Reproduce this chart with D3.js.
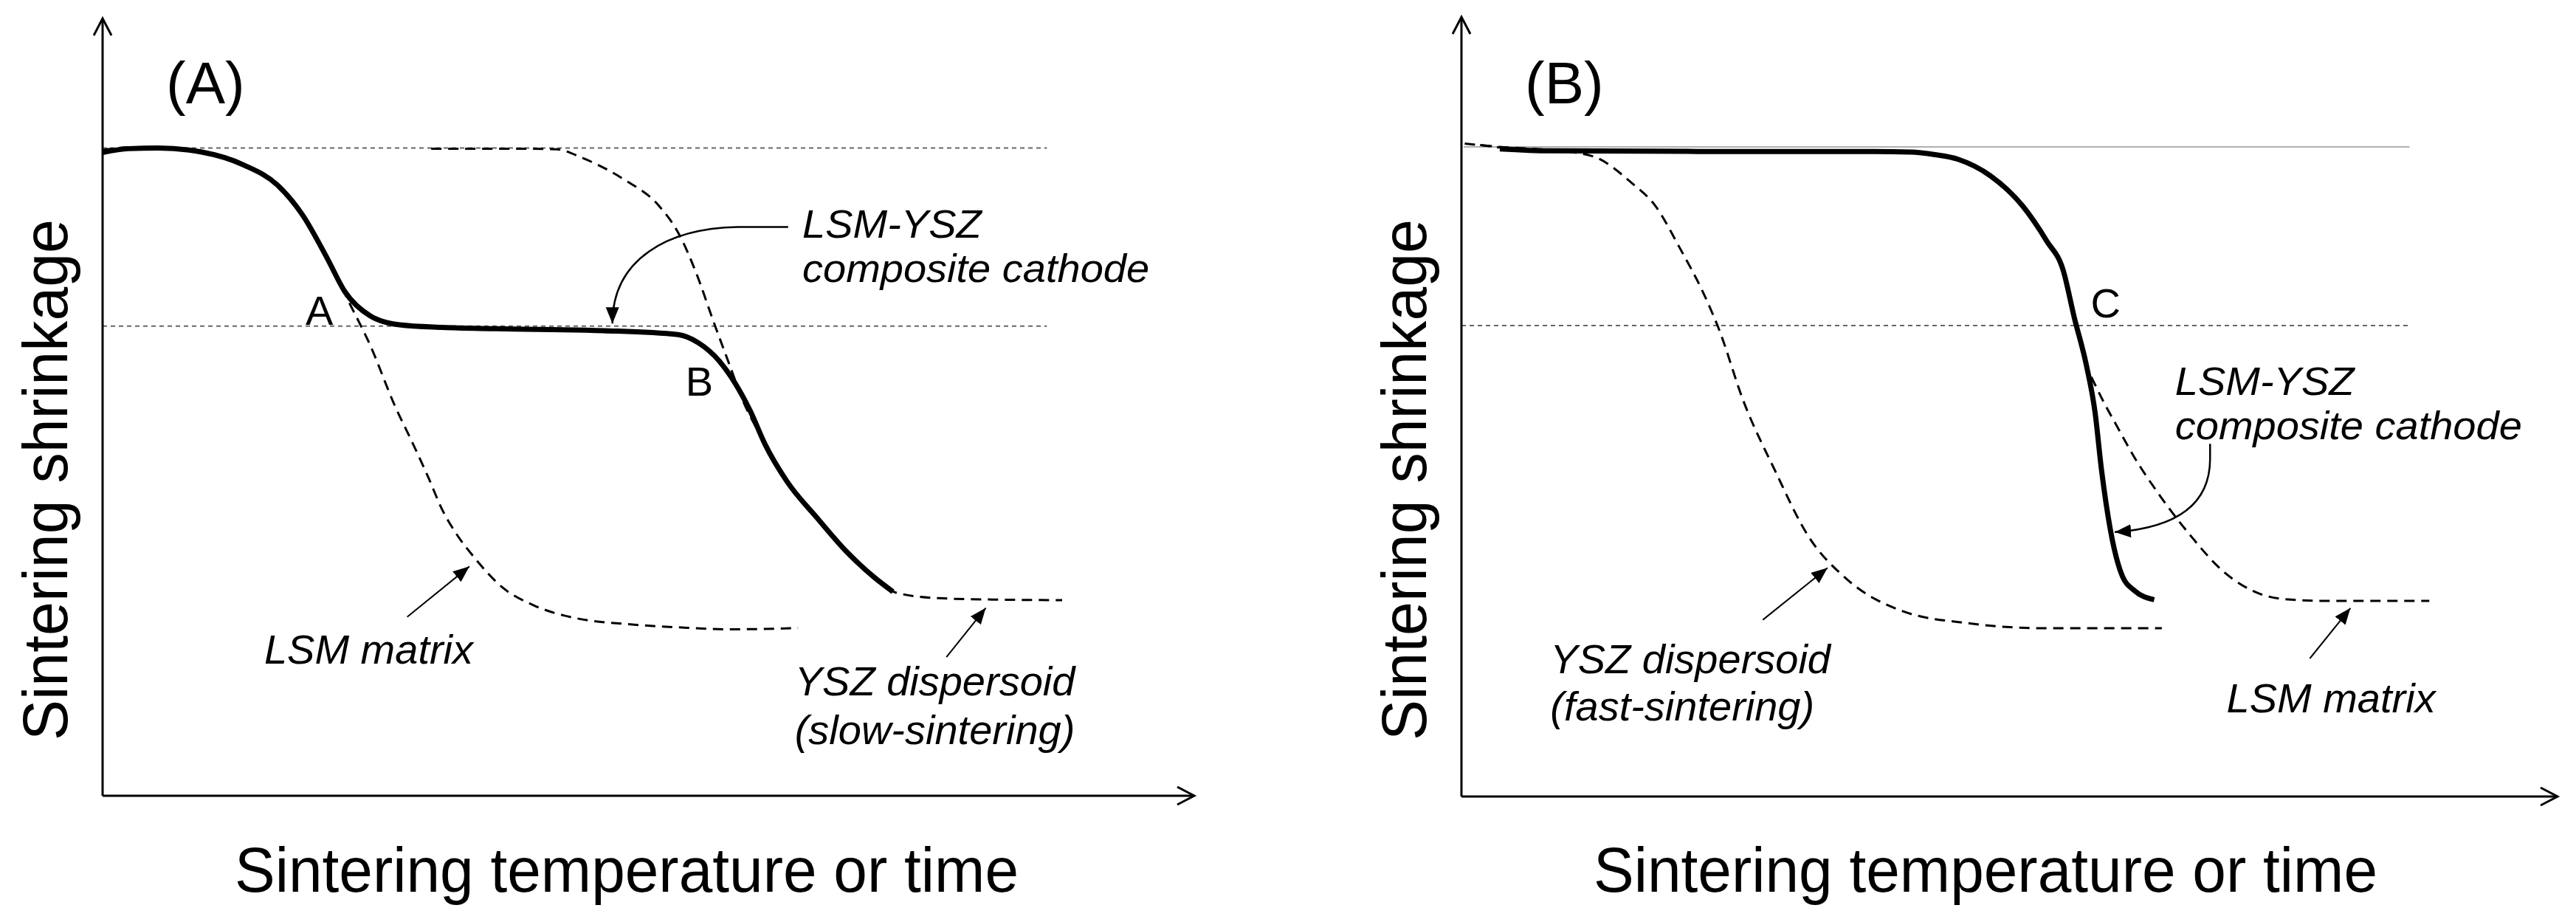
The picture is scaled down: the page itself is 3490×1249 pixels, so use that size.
<!DOCTYPE html>
<html><head><meta charset="utf-8">
<script src="https://cdn.jsdelivr.net/npm/d3@7"></script>
<style>
html,body{margin:0;padding:0;background:#fff;}
svg{display:block;}
text{font-family:"Liberation Sans", Arial, sans-serif;fill:#000;}
</style>
</head><body>
<svg id="chart" width="3490" height="1249"></svg>
<script>
// ---------- DATA (x: sintering temperature/time, y: shrinkage, arbitrary units) ----------
const axisLabelX = "Sintering temperature or time";
const axisLabelY = "Sintering shrinkage";
const panelTitles = ["(A)", "(B)"];

// Panel A
const aComposite = [[0,99.3],[2.4,99.9],[5.1,100],[9.0,99.4],[12.9,97.4],[16.0,94.3],[18.3,89.7],[20.6,82.9],[22.2,77.8],[24.5,74.1],[27.2,72.7],[31.1,72.3],[36.1,72.1],[45.9,71.8],[52.7,71.2],[54.6,69.9],[56.5,67.1],[57.9,63.8],[59.3,59.5],[60.7,54.2],[62.7,48.5],[65.5,42.8],[68.2,37.6],[70.7,33.7],[72.4,31.5]];
const aLSM = [[0,99.7],[2.4,100.1],[5.1,100.1],[9.0,99.5],[12.9,97.5],[16.0,94.4],[18.3,89.9],[20.6,82.9],[22.6,76.1],[24.5,69.6],[26.8,60.1],[28.3,54.8],[29.8,49.3],[31.1,44.2],[32.5,40.2],[33.9,37.1],[36.6,32.2],[39.5,29.4],[43.4,27.4],[48.1,26.5],[52.8,26.0],[57.6,25.7],[63.7,25.9]];
const aYSZ = [[30.1,99.9],[37.9,99.9],[41.6,99.8],[43.9,98.5],[47.8,95.1],[50.9,91.2],[52.8,86.7],[54.4,80.6],[55.9,73.5],[57.5,66.2],[58.6,61.2],[60.0,56.4],[62.7,48.5],[65.5,42.8],[68.2,37.6],[70.7,33.7],[72.8,31.3],[76.6,30.5],[81.3,30.3],[87.9,30.2]];
const aRefLevels = [100, 72.5];

// Panel B
const bComposite = [[3.5,99.7],[8.1,99.4],[21.6,99.3],[35.1,99.3],[41.0,99.2],[43.2,98.8],[45.3,98.1],[48.3,95.5],[51.2,90.9],[53.4,85.5],[54.9,81.0],[55.9,73.8],[57.0,66.5],[57.8,59.2],[58.4,50.2],[59.2,41.1],[60.3,33.9],[61.4,31.7],[63.2,30.3]];
const bLSM = [[1.7,100.3],[3.5,99.9],[8.1,99.5],[21.6,99.4],[35.1,99.4],[41.0,99.3],[43.2,98.9],[45.3,98.2],[48.3,95.6],[51.2,91.0],[53.4,85.6],[54.9,81.1],[55.9,73.9],[57.0,66.6],[58.1,62.4],[59.9,56.7],[61.4,52.2],[63.6,46.6],[66.5,40.2],[69.4,34.8],[73.0,31.1],[75.7,30.3],[78.9,30.1],[88.3,30.1]];
const bYSZ = [[0.3,100.5],[3.5,100],[8.2,99.5],[11.9,98.6],[15.5,94.5],[17.7,90.9],[19.9,84.5],[22.1,77.4],[23.5,71.9],[25.7,61.0],[28.6,50.2],[31.6,40.2],[35.2,33.4],[40.3,28.5],[46.1,26.7],[53.4,25.9],[63.9,25.9]];
const bRefLevels = [100, 72.5];

// ---------- LAYOUT ----------
const svg = d3.select("#chart");
svg.append("rect").attr("width",3490).attr("height",1249).attr("fill","#fff");
const defs = svg.append("defs");
defs.append("marker").attr("id","axisHead").attr("markerUnits","userSpaceOnUse")
  .attr("markerWidth",30).attr("markerHeight",30).attr("refX",24).attr("refY",13).attr("orient","auto")
  .append("path").attr("d","M1,1 L24,13 L1,25").attr("fill","none").attr("stroke","#000").attr("stroke-width",3);
defs.append("marker").attr("id","annHead").attr("markerUnits","userSpaceOnUse")
  .attr("markerWidth",24).attr("markerHeight",20).attr("refX",22).attr("refY",9).attr("orient","auto")
  .append("path").attr("d","M0,0 L22,9 L0,18 Z").attr("fill","#000");

const panels = [
  {ox:139, oy:1078, xEnd:1618, yTip:25, title:panelTitles[0], composite:aComposite, dashed:[aLSM,aYSZ], refs:aRefLevels, refEnd:86.5, topSolid:false,
   letters:[{t:"A",x:18.6,y:72.7},{t:"B",x:53.4,y:61.8}],
   labels:[{lines:["LSM-YSZ","composite cathode"],x:64.1,y:86.2,dy:60,fs:53},
           {lines:["LSM matrix"],x:14.8,y:20.4,dy:0,fs:56},
           {lines:["YSZ dispersoid","(slow-sintering)"],x:63.4,y:15.5,dy:66,fs:56}],
   straightArrows:[[[27.9,27.6],[33.6,35.4]],[[77.3,21.4],[80.9,29.0]]],
   curved:{p0:[62.8,87.8],p1:[58.2,87.8],c1:[51.8,87.6],c2:[46.7,82.9],p2:[46.7,72.9]}},
  {ox:1980, oy:1079, xEnd:3465, yTip:23, title:panelTitles[1], composite:bComposite, dashed:[bLSM,bYSZ], refs:bRefLevels, refEnd:86.5, topSolid:true,
   letters:[{t:"C",x:57.4,y:73.75}],
   labels:[{lines:["LSM-YSZ","composite cathode"],x:65.1,y:61.8,dy:60,fs:53},
           {lines:["YSZ dispersoid","(fast-sintering)"],x:8.1,y:19.0,dy:64,fs:56},
           {lines:["LSM matrix"],x:69.8,y:13.0,dy:0,fs:56}],
   straightArrows:[[[27.5,27.2],[33.4,35.2]],[[77.4,21.25],[81.1,29.0]]],
   curved:{p0:[68.3,54.3],p1:[68.3,52.0],c1:[68.3,45.3],c2:[65.5,41.4],p2:[59.6,40.7]}}
];

panels.forEach(P => {
  const x = d3.scaleLinear().domain([0,100]).range([P.ox, P.xEnd]);
  const y = d3.scaleLinear().domain([0,120]).range([P.oy, P.yTip]);
  const g = svg.append("g");
  const line = d3.line().x(d=>x(d[0])).y(d=>y(d[1])).curve(d3.curveMonotoneX);

  // reference lines
  P.refs.forEach((lv,i) => {
    const solid = P.topSolid && i===0;
    g.append("line").attr("x1",x(solid?0.2:0)).attr("x2",x(P.refEnd)).attr("y1",y(lv)).attr("y2",y(lv))
      .attr("stroke", solid? "#b0b0b0" : "#666").attr("stroke-width",2)
      .attr("stroke-dasharray", solid? null : "6,5");
  });

  // dashed curves
  P.dashed.forEach(s => {
    g.append("path").attr("d",line(s)).attr("fill","none").attr("stroke","#000")
      .attr("stroke-width",3).attr("stroke-dasharray","14,9");
  });
  // composite (solid)
  g.append("path").attr("d",line(P.composite)).attr("fill","none").attr("stroke","#000")
    .attr("stroke-width",7).attr("stroke-linejoin","round");

  // axes
  g.append("line").attr("x1",x(0)).attr("y1",y(0)).attr("x2",x(0)).attr("y2",y(120))
    .attr("stroke","#000").attr("stroke-width",3).attr("marker-end","url(#axisHead)");
  g.append("line").attr("x1",x(0)).attr("y1",y(0)).attr("x2",x(100)).attr("y2",y(0))
    .attr("stroke","#000").attr("stroke-width",3).attr("marker-end","url(#axisHead)");

  // axis labels
  g.append("text").attr("x",P.ox+179).attr("y",1208).attr("font-size",86)
    .attr("textLength",1062).attr("lengthAdjust","spacingAndGlyphs").text(axisLabelX);
  g.append("text").attr("transform",`translate(${P.ox-48},${650}) rotate(-90)`)
    .attr("text-anchor","middle").attr("font-size",86)
    .attr("textLength",706).attr("lengthAdjust","spacingAndGlyphs").text(axisLabelY);

  // panel title
  g.append("text").attr("x",P.ox+86).attr("y",140).attr("font-size",80).text(P.title);

  // point letters
  P.letters.forEach(l => {
    g.append("text").attr("x",x(l.x)).attr("y",y(l.y)).attr("font-size",56).text(l.t);
  });

  // labels: one text per line; widths kept as at 56px
  P.labels.forEach(l => {
    l.lines.forEach((s,i) => {
      const t = g.append("text").attr("x",x(l.x)).attr("y",y(l.y)+i*l.dy).attr("font-size",l.fs)
        .attr("font-style","italic").text(s);
      if (l.fs !== 56) {
        const w = t.node().getComputedTextLength();
        t.attr("textLength", w*56/l.fs).attr("lengthAdjust","spacingAndGlyphs");
      }
    });
  });

  // straight arrows
  P.straightArrows.forEach(a => {
    g.append("line").attr("x1",x(a[0][0])).attr("y1",y(a[0][1])).attr("x2",x(a[1][0])).attr("y2",y(a[1][1]))
      .attr("stroke","#000").attr("stroke-width",2).attr("marker-end","url(#annHead)");
  });

  // curved arrow
  const c = P.curved;
  const p = d3.path();
  p.moveTo(x(c.p0[0]),y(c.p0[1]));
  p.lineTo(x(c.p1[0]),y(c.p1[1]));
  p.bezierCurveTo(x(c.c1[0]),y(c.c1[1]),x(c.c2[0]),y(c.c2[1]),x(c.p2[0]),y(c.p2[1]));
  g.append("path").attr("d",p.toString()).attr("fill","none").attr("stroke","#000")
    .attr("stroke-width",2.5).attr("marker-end","url(#annHead)");
});
</script>
</body></html>
